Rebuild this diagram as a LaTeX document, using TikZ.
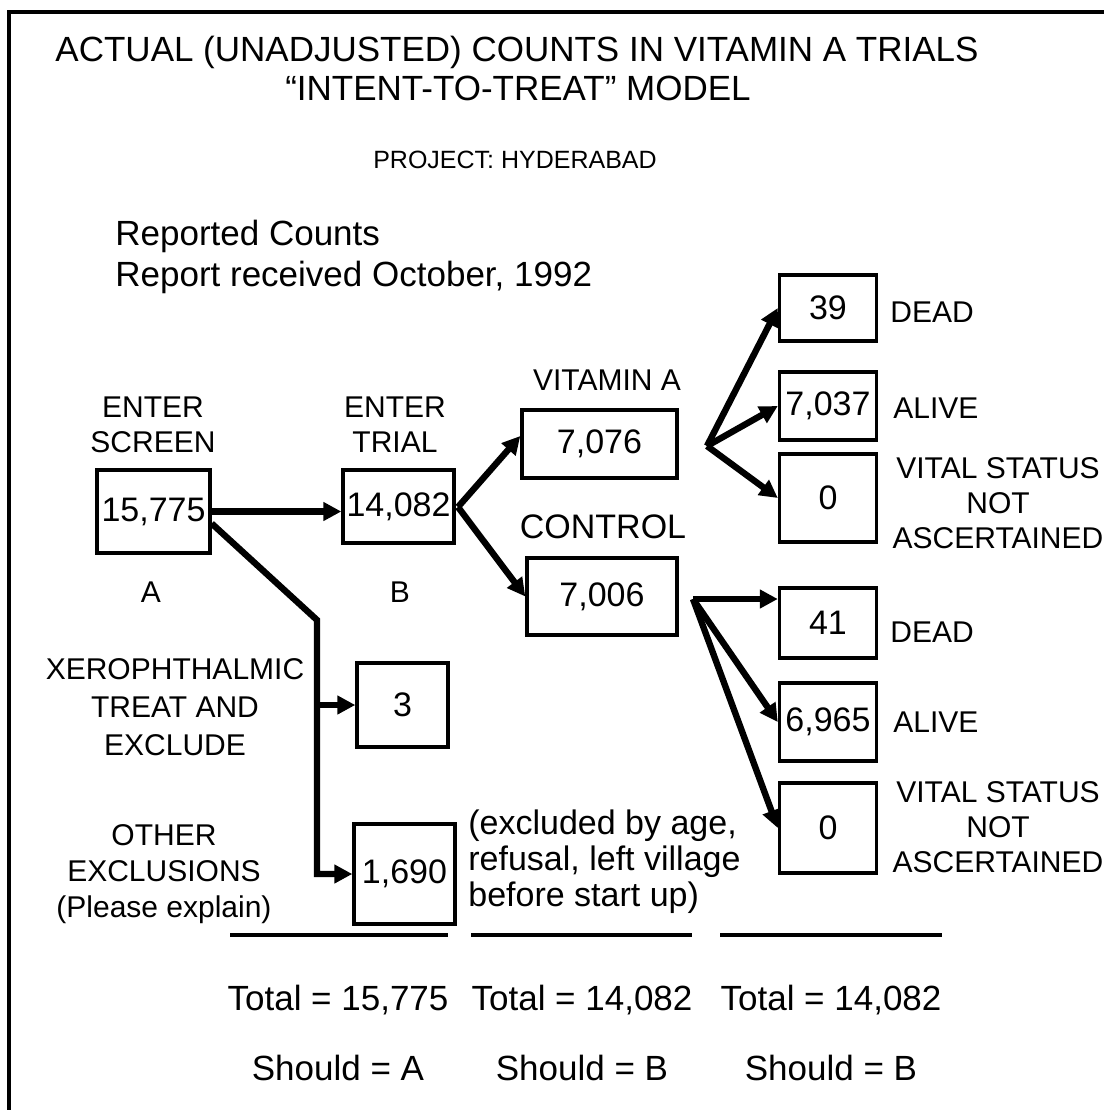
\documentclass[tikz,border=0pt]{standalone}
\usepackage{fontspec}
\setmainfont{Liberation Sans}
\usetikzlibrary{arrows.meta,calc}

\begin{document}
\begin{tikzpicture}[x=0.5pt,y=-0.5pt,
    box/.style={draw,line width=1.7pt,inner sep=0pt,font=\fontsize{17}{20}\selectfont},
    flow/.style={line width=3.2pt,-{Triangle[length=9pt,width=9pt]}},
    lbl/.style={inner sep=0pt,align=center,font=\fontsize{15}{17.5}\selectfont},
    big/.style={inner sep=0pt,align=left,font=\fontsize{17.5}{18}\selectfont}]
        \useasboundingbox (0,0) rectangle (1104,1110);
        % frame (cut off at the right and bottom)
        \draw[line width=2pt] (9,1110) -- (9,12) -- (1104,12);

        % headings
        \node[big] (t1) at (517,52) {ACTUAL (UNADJUSTED) COUNTS IN VITAMIN A TRIALS};
        \node[big] (t2) at (518,88) {``INTENT-TO-TREAT'' MODEL};
        \node[inner sep=0pt,font=\fontsize{12.5}{15}\selectfont] (pj) at (515,160) {PROJECT: HYDERABAD};
        \node[big,anchor=west] (rc) at (115,236) {Reported Counts};
        \node[big,anchor=west] (rr) at (115,277) {Report received October, 1992};

        % screening and trial entry
        \node[box,minimum width=56.5pt,minimum height=41.5pt] (A) at (153.5,511.5) {15,775};
        \node[lbl] (sA) at (153,425) {ENTER\\SCREEN};
        \node[lbl] (lA) at (151,592) {A};
        \node[box,minimum width=55.5pt,minimum height=36.5pt] (B) at (398.5,506.5) {14,082};
        \node[lbl] (sB) at (395,425) {ENTER\\TRIAL};
        \node[lbl] (lB) at (400,592) {B};

        % exclusions
        \node[box,minimum width=45.5pt,minimum height=42pt] (x3) at (402.5,705) {3};
        \node[box,minimum width=50.5pt,minimum height=50pt] (xo) at (404.5,874) {1,690};
        \node[lbl,font=\fontsize{15}{19}\selectfont] (sx) at (175,707) {XEROPHTHALMIC\\TREAT AND\\EXCLUDE};
        \node[lbl,font=\fontsize{15}{18}\selectfont] (so) at (164,874) {OTHER\\EXCLUSIONS\\(Please explain)};
        \node[big,anchor=west,font=\fontsize{17}{18}\selectfont] (note) at (468,862) {(excluded by age,\\refusal, left village\\before start up)};

        % randomised groups
        \node[box,minimum width=77.5pt,minimum height=34pt] (vit) at (599.5,444) {7,076};
        \node[lbl] (sv) at (607,380) {VITAMIN A};
        \node[box,minimum width=75pt,minimum height=38.5pt] (ctl) at (602,596.5) {7,006};
        \node[lbl,font=\fontsize{17}{20}\selectfont] (sc) at (603,527) {CONTROL};

        % outcomes, vitamin A
        \node[box,minimum width=48.5pt,minimum height=33pt] (d1) at (828,308) {39};
        \node[box,minimum width=48.5pt,minimum height=34pt] (a1) at (828,406) {7,037};
        \node[box,minimum width=48.5pt,minimum height=44pt] (n1) at (828,498) {0};
        \node[lbl,anchor=west] (sd1) at (890,312) {DEAD};
        \node[lbl,anchor=west] (sa1) at (893,408) {ALIVE};
        \node[lbl] (sn1) at (998,503) {VITAL STATUS\\NOT\\ASCERTAINED};

        % outcomes, control
        \node[box,minimum width=48.5pt,minimum height=35pt] (d2) at (828,623) {41};
        \node[box,minimum width=48.5pt,minimum height=39pt] (a2) at (828,722) {6,965};
        \node[box,minimum width=48.5pt,minimum height=45pt] (n2) at (828,828) {0};
        \node[lbl,anchor=west] (sd2) at (890,632) {DEAD};
        \node[lbl,anchor=west] (sa2) at (893,722) {ALIVE};
        \node[lbl] (sn2) at (998,827) {VITAL STATUS\\NOT\\ASCERTAINED};

        % connectors
        \coordinate (bk) at (317,620);
        \coordinate (fb) at (458,507);
        \coordinate (fv) at (707,446);
        \coordinate (fc) at (693,599);
        \draw[flow] (A.east) -- (A.east -| B.west);
        \draw[flow] ([yshift=-6pt]A.east) -- (bk) -- (bk |- xo.west) -- (xo.west);
        \draw[flow] (bk |- x3.west) -- (x3.west);
        \draw[flow] (fb) -- ([yshift=4pt]vit.west);
        \draw[flow] (fb) -- (ctl.west);
        \draw[flow] (fv) -- (d1.west);
        \draw[flow] (fv) -- (a1.west);
        \draw[flow] (fv) -- (n1.west);
        \draw[flow] (fc) -- (fc -| d2.west);
        \draw[flow] (fc) -- (a2.west);
        \draw[flow] (fc) -- (n2.west);

        % totals
        \foreach \xa/\xb in {230/448, 471/692, 720/942} {
            \draw[line width=2pt] (\xa,935) -- (\xb,935);
        }
        \node[big] (tA) at (338,1000) {Total = 15,775};
        \node[big] (tB) at (582,1000) {Total = 14,082};
        \node[big] (tC) at (831,1000) {Total = 14,082};
        \node[big] (hA) at (338,1068) {Should = A};
        \node[big] (hB) at (582,1068) {Should = B};
        \node[big] (hC) at (831,1068) {Should = B};
    \end{tikzpicture}
\end{document}
